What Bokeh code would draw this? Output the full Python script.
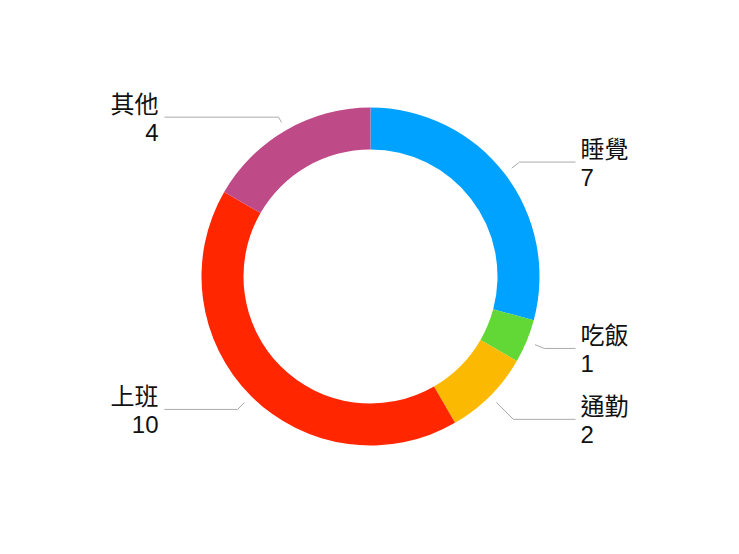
import numpy as np
from bokeh.plotting import figure
from bokeh.models import ColumnDataSource, Range1d
from bokeh.core.properties import value
from bokeh.embed import file_html
from bokeh.resources import INLINE

# data
activities = ["睡覺", "吃飯", "通勤", "上班", "其他"]
hours = [7, 1, 2, 10, 4]
colors = ["#00A2FF", "#61D836", "#FBB902", "#FF2600", "#BE4B87"]

W, H = 723, 538
cx, cy = 370, 262
r_in, r_out = 127, 169
r_lead = 178
r_bend = [188, 188, 202, 188, 184]

total = sum(hours)
frac_end = np.cumsum(hours) / total
frac_start = frac_end - np.array(hours) / total
start_angle = np.pi / 2 - 2 * np.pi * frac_start
end_angle = np.pi / 2 - 2 * np.pi * frac_end
mid = (start_angle + end_angle) / 2

p = figure(width=W, height=H, x_range=Range1d(0, W), y_range=Range1d(0, H),
           output_backend="svg", toolbar_location=None,
           x_axis_location=None, y_axis_location=None, min_border=0)
p.grid.visible = False
p.outline_line_color = None

src = ColumnDataSource(data={
    'start': start_angle,
    'end': end_angle,
    'color': colors,
    'name': activities,
    'hours': hours,
})
p.annular_wedge(x=cx, y=cy, inner_radius=r_in, outer_radius=r_out,
                start_angle='start', end_angle='end', direction="clock",
                fill_color='color', line_color=None, source=src)

# leader lines + labels
xs, ys = [], []
lab_x, name_y, val_y, align = [], [], [], []
for a, rb in zip(mid, r_bend):
    x0, y0 = cx + r_lead * np.cos(a), cy + r_lead * np.sin(a)
    bx, by = cx + rb * np.cos(a), cy + rb * np.sin(a)
    if np.cos(a) > 0:
        xs.append([x0, bx, 575])
        lab_x.append(580)
        align.append("left")
    else:
        xs.append([x0, bx, 164])
        lab_x.append(158)
        align.append("right")
    ys.append([y0, by, by])
    name_y.append(by + 15)
    val_y.append(by - 15)

p.multi_line(xs=xs, ys=ys, line_color="#AAAAAA", line_width=1)

lab = ColumnDataSource(data={
    'x': lab_x, 'ny': name_y, 'vy': val_y, 'align': align,
    'name': activities, 'val': [str(h) for h in hours],
})
p.text(x='x', y='ny', text='name', text_align='align', text_baseline="middle",
       text_font=value("Noto Sans CJK TC"), text_font_size="24px",
       text_color="#111111", source=lab)
p.text(x='x', y='vy', text='val', text_align='align', text_baseline="middle",
       text_font=value("Liberation Sans"), text_font_size="24px",
       text_color="#111111", source=lab)

open("out.html", "w").write(file_html(p, INLINE))
